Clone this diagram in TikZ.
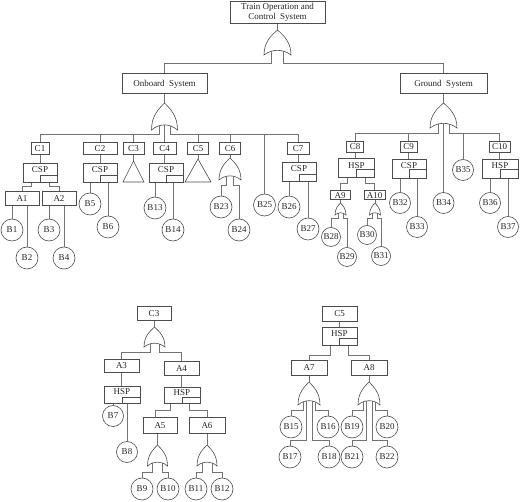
\documentclass[tikz,border=0pt]{standalone}
\usepackage{fontspec}
\setmainfont{Liberation Serif}
\newcommand\figfont{\fontsize{9}{10}\selectfont}
\pgfdeclarelayer{bg}
\pgfsetlayers{bg,main}
\tikzset{
 ln/.style={draw=black!55, line width=0.6pt},
 bx/.style={draw=black!70, line width=0.6pt, rectangle, inner sep=0pt, font=\figfont, text=black!85, text height=6.2pt, text depth=0pt, fill=white},
 sp/.style={bx, text height=6.5pt, text depth=5.5pt, path picture={\draw[draw=black!70, line width=0.6pt] (path picture bounding box.south) -- ++(0,-#1) -| (path picture bounding box.east);}},
 sp/.default=7,
 ci/.style={circle, draw=black!70, line width=0.6pt, minimum size=22pt, inner sep=0pt, font=\figfont, text=black!85, fill=white},
 gate/.style={draw=black!70, line width=0.6pt, fill=white},
}
\newcommand\ORgate[5]{%
 \draw[gate] ({#2-#5},#4) .. controls ({#2-#5},{#4-0.55*(#4-#3)}) and ({#2-0.4*#5},{#3+0.2*(#4-#3)}) .. (#2,#3)
 .. controls ({#2+0.4*#5},{#3+0.2*(#4-#3)}) and ({#2+#5},{#4-0.55*(#4-#3)}) .. ({#2+#5},#4)
 .. controls ({#2+0.4*#5},{#4-0.25*(#4-#3)}) and ({#2-0.4*#5},{#4-0.25*(#4-#3)}) .. ({#2-#5},#4) -- cycle;
 \coordinate (#1) at (#2,#3);}
\begin{document}
\begin{tikzpicture}[x=1pt,y=-1pt]
\useasboundingbox (0,0) rectangle (520,502);
% ---------- top ----------
\node[draw=black!70, line width=0.6pt, inner sep=0pt, font=\figfont, text=black!85, align=center, minimum width=95pt, minimum height=22pt, fill=white] (top) at (277.5,12) {Train Operation and\\Control\ \ System};
\node[bx, minimum width=85pt, minimum height=20pt] (ob) at (164.5,83) {Onboard\ \ System};
\node[bx, minimum width=87pt, minimum height=20pt] (gs) at (443.5,83) {Ground\ \ System};
% ---------- onboard ----------
\node[bx, minimum width=18pt, minimum height=12pt] (C1) at (40,148) {C1};
\node[bx, minimum width=34pt, minimum height=12pt] (C2) at (100,148) {C2};
\node[bx, minimum width=21pt, minimum height=12pt] (C3) at (133.5,148) {C3};
\node[bx, minimum width=23pt, minimum height=12pt] (C4) at (164.5,148) {C4};
\node[bx, minimum width=21pt, minimum height=12pt] (C5) at (198,148) {C5};
\node[bx, minimum width=21pt, minimum height=12pt] (C6) at (230,148) {C6};
\node[bx, minimum width=22pt, minimum height=12pt] (C7) at (298,148) {C7};
\node[sp, minimum width=34pt, minimum height=19pt] (CSP1) at (40,172.5) {CSP};
\node[sp, minimum width=34pt, minimum height=19pt] (CSP2) at (100,172.5) {CSP};
\node[sp, minimum width=34pt, minimum height=19pt] (CSP4) at (166,172.5) {CSP};
\node[sp, minimum width=34pt, minimum height=19pt] (CSP7) at (299,171.5) {CSP};
\node[bx, minimum width=34pt, minimum height=14pt] (A1) at (22,198.5) {A1};
\node[bx, minimum width=34pt, minimum height=14pt] (A2) at (59,198.5) {A2};
\node[ci] (B1) at (12,230) {B1};
\node[ci] (B2) at (27,258) {B2};
\node[ci] (B3) at (49,230) {B3};
\node[ci] (B4) at (64,258) {B4};
\node[ci] (B5) at (90,204) {B5};
\node[ci] (B6) at (108,227) {B6};
\node[ci] (B13) at (155,208) {B13};
\node[ci] (B14) at (173,230) {B14};
\node[ci] (B23) at (221,207) {B23};
\node[ci] (B24) at (239,230) {B24};
\node[ci] (B25) at (264.5,205) {B25};
\node[ci] (B26) at (289,207) {B26};
\node[ci] (B27) at (308,229) {B27};
% ---------- ground ----------
\node[bx, minimum width=17pt, minimum height=11pt] (C8) at (355,146.5) {C8};
\node[bx, minimum width=17pt, minimum height=11pt] (C9) at (408.5,146.5) {C9};
\node[bx, minimum width=21pt, minimum height=11pt] (C10) at (499.5,146.5) {C10};
\node[sp=8.5, minimum width=36pt, minimum height=19pt] (HSP8) at (356.5,168) {HSP};
\node[sp=8.5, minimum width=34pt, minimum height=19pt] (CSP9) at (409,168.5) {CSP};
\node[sp=8.5, minimum width=36pt, minimum height=19pt] (HSP10) at (500,168.5) {HSP};
\node[bx, minimum width=20pt, minimum height=9.5pt] (A9) at (340,195) {A9};
\node[bx, minimum width=21pt, minimum height=9.5pt] (A10) at (374.5,195) {A10};
\node[ci, minimum size=19pt] (B28) at (331,237) {B28};
\node[ci, minimum size=19pt] (B29) at (347,257) {B29};
\node[ci, minimum size=19pt] (B30) at (367,235) {B30};
\node[ci, minimum size=19pt] (B31) at (381,256) {B31};
\node[ci, minimum size=21pt] (B32) at (400,203) {B32};
\node[ci, minimum size=21pt] (B33) at (417,227) {B33};
\node[ci, minimum size=21pt] (B34) at (443.5,203) {B34};
\node[ci, minimum size=21pt] (B35) at (463,170) {B35};
\node[ci, minimum size=21pt] (B36) at (490,203) {B36};
\node[ci, minimum size=21pt] (B37) at (508,227) {B37};
% ---------- C3 subtree ----------
\node[bx, minimum width=34pt, minimum height=14pt] (C3b) at (154,313) {C3};
\node[bx, minimum width=35pt, minimum height=13pt] (A3) at (121.5,365.5) {A3};
\node[bx, minimum width=35pt, minimum height=14pt] (A4) at (181.5,368) {A4};
\node[sp=6, minimum width=36pt, minimum height=17pt] (HSP3) at (122,394.5) {HSP};
\node[sp=5.5, minimum width=36pt, minimum height=16pt] (HSP4) at (182,395) {HSP};
\node[ci, minimum size=21pt] (B7) at (113,416) {B7};
\node[ci, minimum size=21pt] (B8) at (127,452) {B8};
\node[bx, minimum width=34pt, minimum height=16pt] (A5) at (160,425) {A5};
\node[bx, minimum width=36pt, minimum height=16pt] (A6) at (207,425) {A6};
\node[ci] (B9) at (142,489) {B9};
\node[ci] (B10) at (168,489) {B10};
\node[ci] (B11) at (196,489) {B11};
\node[ci] (B12) at (222,489) {B12};
% ---------- C5 subtree ----------
\node[bx, minimum width=35pt, minimum height=15pt] (C5b) at (339.5,313.5) {C5};
\node[sp=6.5, minimum width=35pt, minimum height=18pt] (HSP5) at (339.5,336) {HSP};
\node[bx, minimum width=36pt, minimum height=15pt] (A7) at (309,367.5) {A7};
\node[bx, minimum width=36pt, minimum height=15pt] (A8) at (369,367.5) {A8};
\node[ci] (B15) at (291,427) {B15};
\node[ci] (B16) at (328,427) {B16};
\node[ci] (B17) at (290,457) {B17};
\node[ci] (B18) at (329,457) {B18};
\node[ci] (B19) at (352,427) {B19};
\node[ci] (B20) at (387,427) {B20};
\node[ci] (B21) at (352,457) {B21};
\node[ci] (B22) at (387,457) {B22};
% ---------- gates ----------
\ORgate{gTOP}{277.5}{30}{55}{13.5}
\ORgate{gOB}{164.5}{103}{130}{13}
\ORgate{gGS}{443.5}{103}{128}{13.5}
\ORgate{gC6}{230}{158}{180}{11}
\ORgate{gA9}{340.5}{203}{215}{5.5}
\ORgate{gA10}{375}{203}{215}{5.5}
\ORgate{gC3}{154.5}{327}{347}{10.5}
\ORgate{gA5}{157.5}{445}{466}{10}
\ORgate{gA6}{207}{445}{466}{10}
\ORgate{gA7}{309}{382}{405}{11}
\ORgate{gA8}{369}{382}{405}{11}
\draw[gate] (123,182) -- (133.5,161) -- (144,182) -- cycle;
\coordinate (T3) at (133.5,161);
\draw[gate] (185,182) -- (198,159) -- (211,182) -- cycle;
\coordinate (T5) at (198,159);
% leg coordinates
\coordinate (gTOP-L) at (271.5,51); \coordinate (gTOP-R) at (283.5,51);
\coordinate (gOB-L) at (159,126); \coordinate (gOB-M) at (164.5,124); \coordinate (gOB-R) at (170,126);
\coordinate (gGS-L) at (438,124); \coordinate (gGS-M) at (443.5,122); \coordinate (gGS-R) at (449,124);
\coordinate (gC6-L) at (226.5,176); \coordinate (gC6-R) at (233.5,176);
\coordinate (gA9-L) at (338,213); \coordinate (gA9-R) at (343,213);
\coordinate (gA10-L) at (372.5,213); \coordinate (gA10-R) at (377.5,213);
\coordinate (gC3-L) at (150,343); \coordinate (gC3-R) at (159,343);
\coordinate (gA5-L) at (152.5,462); \coordinate (gA5-R) at (162.5,462);
\coordinate (gA6-L) at (202,462); \coordinate (gA6-R) at (212,462);
\coordinate (gA7-1) at (303,401); \coordinate (gA7-2) at (306,401); \coordinate (gA7-3) at (312,401); \coordinate (gA7-4) at (315,401);
\coordinate (gA8-1) at (363,401); \coordinate (gA8-2) at (366,401); \coordinate (gA8-3) at (372,401); \coordinate (gA8-4) at (375,401);
\coordinate (r63) at (0,63); \coordinate (r134) at (0,134); \coordinate (r133) at (0,133);
% ---------- connectors ----------
\begin{pgfonlayer}{bg}
\draw[ln] (top.south) -- (gTOP);
\draw[ln] (gTOP-L) -- (gTOP-L |- r63) -| (ob.north);
\draw[ln] (gTOP-R) -- (gTOP-R |- r63) -| (gs.north);
\draw[ln] (ob.south) -- (gOB);
\draw[ln] (gOB-L) -- (gOB-L |- r134) -| (C1.north);
\draw[ln] (C2.north) -- (C2.north |- r134);
\draw[ln] (C3.north) -- (C3.north |- r134);
\draw[ln] (gOB-M) -- (C4.north);
\draw[ln] (gOB-R) -- (gOB-R |- r134) -| (C7.north);
\draw[ln] (C5.north) -- (C5.north |- r134);
\draw[ln] (C6.north) -- (C6.north |- r134);
\draw[ln] (B25.north) -- (B25.north |- r134);
\draw[ln] (C1.south) -- (CSP1.north);
\draw[ln] ([xshift=-9pt]CSP1.south) -- ++(0,4) -| (A1.north);
\draw[ln] ([xshift=9pt]CSP1.south) -- ++(0,4) -| (A2.north);
\draw[ln] (B1.north |- A1.south) -- (B1.north);
\draw[ln] (B2.north |- A1.south) -- (B2.north);
\draw[ln] (B3.north |- A2.south) -- (B3.north);
\draw[ln] (B4.north |- A2.south) -- (B4.north);
\draw[ln] (C2.south) -- (CSP2.north);
\draw[ln] (B5.north |- CSP2.south) -- (B5.north);
\draw[ln] (B6.north |- CSP2.south) -- (B6.north);
\draw[ln] (C3.south) -- (T3);
\draw[ln] (C4.south) -- (C4.south |- CSP4.north);
\draw[ln] (B13.north |- CSP4.south) -- (B13.north);
\draw[ln] (B14.north |- CSP4.south) -- (B14.north);
\draw[ln] (C5.south) -- (T5);
\draw[ln] (C6.south) -- (gC6);
\draw[ln] (gC6-L) -- ++(0,9) -| (B23.north);
\draw[ln] (gC6-R) -- ++(0,9) -| (B24.north);
\draw[ln] (C7.south) -- (C7.south |- CSP7.north);
\draw[ln] (B26.north |- CSP7.south) -- (B26.north);
\draw[ln] (B27.north |- CSP7.south) -- (B27.north);
% ground
\draw[ln] (gs.south) -- (gGS);
\draw[ln] (gGS-L) -- (gGS-L |- r133) -| (C8.north);
\draw[ln] (C9.north) -- (C9.north |- r133);
\draw[ln] (gGS-M) -- (B34.north);
\draw[ln] (gGS-R) -- (gGS-R |- r133) -| (C10.north);
\draw[ln] (B35.north) -- (B35.north |- r133);
\draw[ln] (C8.south) -- (C8.south |- HSP8.north);
\draw[ln] ([xshift=-9.5pt]HSP8.south) -- ++(0,5.5) -| (A9.north);
\draw[ln] ([xshift=8.5pt]HSP8.south) -- ++(0,5.5) -| (A10.north);
\draw[ln] (gA9 |- A9.south) -- (gA9);
\draw[ln] (gA9-L) -- ++(0,5) -| (B28.north);
\draw[ln] (gA9-R) -- ++(0,5) -| (B29.north);
\draw[ln] (gA10 |- A10.south) -- (gA10);
\draw[ln] (gA10-L) -- ++(0,5) -| (B30.north);
\draw[ln] (gA10-R) -- ++(0,5) -| (B31.north);
\draw[ln] (C9.south) -- (C9.south |- CSP9.north);
\draw[ln] (B32.north |- CSP9.south) -- (B32.north);
\draw[ln] (B33.north |- CSP9.south) -- (B33.north);
\draw[ln] (C10.south) -- (C10.south |- HSP10.north);
\draw[ln] (B36.north |- HSP10.south) -- (B36.north);
\draw[ln] (B37.north |- HSP10.south) -- (B37.north);
% C3 subtree
\draw[ln] (gC3 |- C3b.south) -- (gC3);
\draw[ln] (gC3-L) -- ++(0,9) -| (A3.north);
\draw[ln] (gC3-R) -- ++(0,9) -| (A4.north);
\draw[ln] (A3.south) -- (A3.south |- HSP3.north);
\draw[ln] (B7.north |- HSP3.south) -- (B7.north);
\draw[ln] (B8.north |- HSP3.south) -- (B8.north);
\draw[ln] (A4.south) -- (A4.south |- HSP4.north);
\draw[ln] ([xshift=-12pt]HSP4.south) -- ++(0,7) -| ([xshift=-4.5pt]A5.north);
\draw[ln] ([xshift=7pt]HSP4.south) -- ++(0,7) -| (A6.north);
\draw[ln] (gA5 |- A5.south) -- (gA5);
\draw[ln] (gA5-L) -- ++(0,10) -| (B9.north);
\draw[ln] (gA5-R) -- ++(0,10) -| (B10.north);
\draw[ln] (A6.south) -- (gA6);
\draw[ln] (gA6-L) -- ++(0,10) -| (B11.north);
\draw[ln] (gA6-R) -- ++(0,10) -| (B12.north);
% C5 subtree
\draw[ln] (C5b.south) -- (HSP5.north);
\draw[ln] ([xshift=-9.5pt]HSP5.south) -- ++(0,10) -| (A7.north);
\draw[ln] ([xshift=8.5pt]HSP5.south) -- ++(0,10) -| (A8.north);
\draw[ln] (A7.south) -- (gA7);
\draw[ln] (gA7-1) -- ++(0,9) -| (B15.north);
\draw[ln] (gA7-2) -- ++(0,39) -| (B17.north);
\draw[ln] (gA7-3) -- ++(0,39) -| (B18.north);
\draw[ln] (gA7-4) -- ++(0,9) -| (B16.north);
\draw[ln] (A8.south) -- (gA8);
\draw[ln] (gA8-1) -- ++(0,9) -| (B19.north);
\draw[ln] (gA8-2) -- ++(0,39) -| (B21.north);
\draw[ln] (gA8-3) -- ++(0,39) -| (B22.north);
\draw[ln] (gA8-4) -- ++(0,9) -| (B20.north);
\end{pgfonlayer}
\end{tikzpicture}
\end{document}
